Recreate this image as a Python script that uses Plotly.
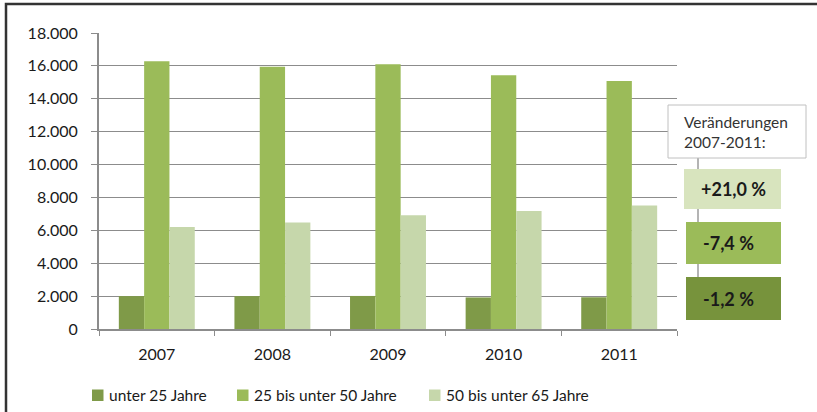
import plotly.graph_objects as go

# ---- data ----
years = ["2007", "2008", "2009", "2010", "2011"]
series_names = ["unter 25 Jahre", "25 bis unter 50 Jahre", "50 bis unter 65 Jahre"]
under25 = [2000, 2000, 2010, 1920, 1930]
from25to50 = [16280, 15950, 16100, 15430, 15080]
from50to65 = [6210, 6470, 6910, 7170, 7515]
y_tick_vals = [0, 2000, 4000, 6000, 8000, 10000, 12000, 14000, 16000, 18000]
y_tick_text = ["0", "2.000", "4.000", "6.000", "8.000", "10.000", "12.000", "14.000", "16.000", "18.000"]
change_title = "Veränderungen<br>2007-2011:"
change_labels = ["+21,0 %", "-7,4 %", "-1,2 %"]

# ---- style ----
W, H = 817, 412
L, R, T, B = 99, 140, 33, 83
PW, PH = W - L - R, H - T - B
bar_colors = ["#7F9A48", "#9BBB59", "#C6D7AB"]
box_colors = ["#D8E4BE", "#9BBB59", "#77933C"]
grid_col = "#8C8C8C"
FONT = "Lato"
txt_col = "#1A1A1A"


def px(x):
    return (x - L) / PW


def py(y):
    return (H - B - y) / PH


fig = go.Figure()
for name, vals, col in zip(series_names, [under25, from25to50, from50to65], bar_colors):
    fig.add_trace(go.Bar(x=years, y=vals, name=name, marker=dict(color=col, line=dict(width=0)),
                         showlegend=False))

shapes = []
annotations = []

# outer border
shapes.append(dict(type="rect", xref="paper", yref="paper", x0=px(6), x1=px(1000), y0=py(600), y1=py(4),
                   line=dict(color="#333333", width=2.5), fillcolor="rgba(0,0,0,0)", layer="above"))

# manual legend
leg_sq_x = [92, 237, 429]
for name, col, x0 in zip(series_names, bar_colors, leg_sq_x):
    shapes.append(dict(type="rect", xref="paper", yref="paper", x0=px(x0), x1=px(x0 + 11.5),
                       y0=py(401), y1=py(389.5), line=dict(width=0), fillcolor=col))
    annotations.append(dict(xref="paper", yref="paper", x=px(x0 + 15), y=py(395), text=name,
                            showarrow=False, xanchor="left", yanchor="middle",
                            font=dict(family=FONT, size=15.5, color=txt_col)))

# change boxes
shapes.append(dict(type="line", xref="paper", yref="paper", x0=px(698), x1=px(698), y0=py(158), y1=py(320),
                   line=dict(color=grid_col, width=1.3)))
shapes.append(dict(type="rect", xref="paper", yref="paper", x0=px(668), x1=px(806), y0=py(158), y1=py(105),
                   line=dict(color="#C0C0C0", width=1), fillcolor="white"))
annotations.append(dict(xref="paper", yref="paper", x=px(682), y=py(132), text=change_title,
                        showarrow=False, xanchor="left", yanchor="middle", align="left",
                        font=dict(family=FONT, size=15.5, color="#333333")))
box_geo = [(684, 781, 169, 209, 733, "center"), (686, 781, 222, 264, 701, "left"),
           (686, 781, 277, 320, 701, "left")]
for (x0, x1, y0, y1, tx, anc), col, lab in zip(box_geo, box_colors, change_labels):
    shapes.append(dict(type="rect", xref="paper", yref="paper", x0=px(x0), x1=px(x1), y0=py(y1), y1=py(y0),
                       line=dict(width=0), fillcolor=col))
    annotations.append(dict(xref="paper", yref="paper", x=px(tx), y=py((y0 + y1) / 2), text="<b>" + lab + "</b>",
                            showarrow=False, xanchor=anc, yanchor="middle",
                            font=dict(family=FONT, size=18, color=txt_col)))

fig.update_layout(
    width=W, height=H,
    margin=dict(l=L, r=R, t=T, b=B, pad=0),
    paper_bgcolor="white", plot_bgcolor="white",
    barmode="group", bargap=0.343, bargroupgap=0,
    showlegend=False,
    shapes=shapes, annotations=annotations,
    font=dict(family=FONT, color=txt_col),
    xaxis=dict(type="category", tickson="boundaries", ticks="outside", ticklen=5, tickcolor=grid_col,
               tickwidth=1.3, showline=True, linecolor=grid_col, linewidth=2, showgrid=False,
               tickfont=dict(family=FONT, size=16, color=txt_col), ticklabelstandoff=10),
    yaxis=dict(range=[0, 18000], tickvals=y_tick_vals, ticktext=y_tick_text, ticks="outside", ticklen=6,
               tickcolor=grid_col, tickwidth=1.3, showline=True, linecolor=grid_col, linewidth=2,
               showgrid=True, gridcolor=grid_col, gridwidth=1.3, zeroline=False,
               tickfont=dict(family=FONT, size=16, color=txt_col), ticklabelstandoff=10),
)

fig.write_html("out.html", config={"displayModeBar": False},
               post_script="document.body.style.margin='0';document.body.style.overflow='hidden';")
